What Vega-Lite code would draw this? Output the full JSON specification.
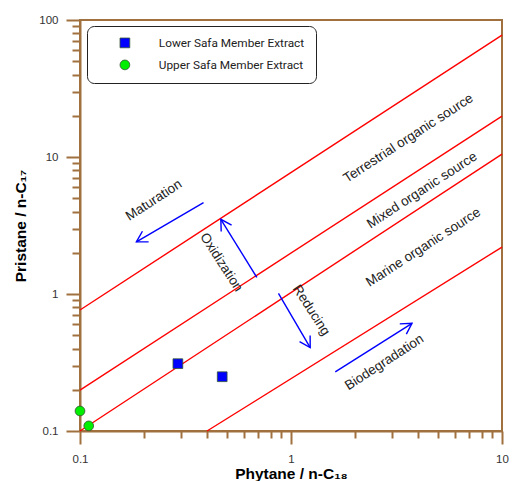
{
  "$schema": "https://vega.github.io/schema/vega-lite/v6.json",
  "width": 422,
  "height": 411,
  "autosize": {"type": "none"},
  "padding": {"left": 80, "top": 20, "right": 10, "bottom": 50},
  "background": "white",
  "config": {
    "view": {"stroke": "#a0703e", "strokeWidth": 2},
    "font": "Liberation Sans"
  },
  "encoding": {
    "x": {
      "field": "x", "type": "quantitative",
      "scale": {"type": "log", "domain": [0.1, 10], "nice": false},
      "axis": {
        "values": [0.1, 0.2, 0.3, 0.4, 0.5, 0.6, 0.7, 0.8, 0.9, 1, 2, 3, 4, 5, 6, 7, 8, 9, 10],
        "labelExpr": "datum.value == 0.1 ? '0.1' : datum.value == 1 ? '1' : datum.value == 10 ? '10' : ''",
        "tickSize": {"condition": {"test": "datum.value == 0.1 || datum.value == 1 || datum.value == 10", "value": 13}, "value": 7},
        "tickColor": "#a0703e", "tickWidth": 2,
        "domainColor": "#a0703e", "domainWidth": 2,
        "grid": false, "labelFlush": false, "labelOverlap": false,
        "labelFontSize": 11.5, "labelColor": "#333333", "labelPadding": 9,
        "title": "Phytane / n-C₁₈", "titleFontSize": 15.5, "titleFontWeight": "bold",
        "titleColor": "#000000", "titlePadding": 2
      }
    },
    "y": {
      "field": "y", "type": "quantitative",
      "scale": {"type": "log", "domain": [0.1, 100], "nice": false},
      "axis": {
        "values": [0.1, 0.2, 0.3, 0.4, 0.5, 0.6, 0.7, 0.8, 0.9, 1, 2, 3, 4, 5, 6, 7, 8, 9, 10, 20, 30, 40, 50, 60, 70, 80, 90, 100],
        "labelExpr": "datum.value == 0.1 ? '0.1' : datum.value == 1 ? '1' : datum.value == 10 ? '10' : datum.value == 100 ? '100' : ''",
        "tickSize": {"condition": {"test": "datum.value == 0.1 || datum.value == 1 || datum.value == 10 || datum.value == 100", "value": 14}, "value": 8},
        "tickColor": "#a0703e", "tickWidth": 2,
        "domainColor": "#a0703e", "domainWidth": 2,
        "grid": false, "labelFlush": false, "labelOverlap": false,
        "labelFontSize": 11.5, "labelColor": "#333333", "labelPadding": 8,
        "title": "Pristane / n-C₁₇", "titleFontSize": 15.5, "titleFontWeight": "bold",
        "titleColor": "#000000", "titlePadding": 10
      }
    }
  },
  "layer": [
    {
      "data": {"values": [
        {"line": "A", "x": 0.1, "y": 0.764}, {"line": "A", "x": 10, "y": 77.6},
        {"line": "B", "x": 0.1, "y": 0.199}, {"line": "B", "x": 10, "y": 19.9},
        {"line": "C", "x": 0.1, "y": 0.1}, {"line": "C", "x": 10, "y": 10.5},
        {"line": "D", "x": 0.4, "y": 0.1}, {"line": "D", "x": 10, "y": 2.2}
      ]},
      "mark": {"type": "line", "color": "#ff0000", "strokeWidth": 1.4},
      "encoding": {"detail": {"field": "line"}}
    },
    {
      "data": {"name": "arrows", "values": [
        {"name": "Maturation", "x": 0.185, "y": 2.40, "x0": 0.385, "y0": 4.65},
        {"name": "Oxidization", "x": 0.465, "y": 3.51, "x0": 0.689, "y0": 1.32},
        {"name": "Reducing", "x": 1.233, "y": 0.406, "x0": 0.872, "y0": 1.01},
        {"name": "Biodegradation", "x": 3.746, "y": 0.611, "x0": 1.621, "y0": 0.270}
      ]},
      "layer": [
        {
          "mark": {"type": "rule", "color": "#0000ff", "strokeWidth": 1.4},
          "encoding": {"x2": {"field": "x0"}, "y2": {"field": "y0"}}
        },
        {
          "transform": [{"filter": "datum.name == 'Maturation'"}],
          "mark": {"type": "point", "shape": "M -0.866 -0.5 L 0 0 L -0.866 0.5", "filled": false, "stroke": "#0000ff", "strokeWidth": 1.4, "size": 600, "angle": 149.7, "opacity": 1}
        },
        {
          "transform": [{"filter": "datum.name == 'Oxidization'"}],
          "mark": {"type": "point", "shape": "M -0.866 -0.5 L 0 0 L -0.866 0.5", "filled": false, "stroke": "#0000ff", "strokeWidth": 1.4, "size": 600, "angle": 238.3, "opacity": 1}
        },
        {
          "transform": [{"filter": "datum.name == 'Reducing'"}],
          "mark": {"type": "point", "shape": "M -0.866 -0.5 L 0 0 L -0.866 0.5", "filled": false, "stroke": "#0000ff", "strokeWidth": 1.4, "size": 600, "angle": 59.7, "opacity": 1}
        },
        {
          "transform": [{"filter": "datum.name == 'Biodegradation'"}],
          "mark": {"type": "point", "shape": "M -0.866 -0.5 L 0 0 L -0.866 0.5", "filled": false, "stroke": "#0000ff", "strokeWidth": 1.4, "size": 600, "angle": 327.6, "opacity": 1}
        }
      ]
    },
    {
      "data": {"values": [
        {"label": "Terrestrial organic source", "x": 3.6, "y": 13.7},
        {"label": "Mixed organic source", "x": 4.18, "y": 5.71},
        {"label": "Marine organic source", "x": 4.24, "y": 2.19},
        {"label": "Maturation", "x": 0.224, "y": 4.83},
        {"label": "Biodegradation", "x": 2.77, "y": 0.317}
      ]},
      "mark": {"type": "text", "angle": 327, "fontSize": 13.5, "color": "#222222", "align": "center", "baseline": "middle"},
      "encoding": {"text": {"field": "label"}}
    },
    {
      "data": {"values": [
        {"label": "Oxidization", "x": 0.467, "y": 1.70},
        {"label": "Reducing", "x": 1.247, "y": 0.76}
      ]},
      "mark": {"type": "text", "angle": 57, "fontSize": 13.5, "color": "#222222", "align": "center", "baseline": "middle"},
      "encoding": {"text": {"field": "label"}}
    },
    {
      "data": {"values": [
        {"series": "Lower Safa Member Extract", "x": 0.291, "y": 0.31},
        {"series": "Lower Safa Member Extract", "x": 0.472, "y": 0.249},
        {"series": "Upper Safa Member Extract", "x": 0.1, "y": 0.14},
        {"series": "Upper Safa Member Extract", "x": 0.11, "y": 0.109}
      ]},
      "mark": {"type": "point", "filled": true, "opacity": 1, "size": 95, "stroke": "#335533", "strokeWidth": 0.8},
      "encoding": {
        "color": {
          "field": "series", "type": "nominal",
          "scale": {"domain": ["Lower Safa Member Extract", "Upper Safa Member Extract"], "range": ["#0000ff", "#00ee00"]},
          "legend": {
            "orient": "none", "legendX": 7, "legendY": 6, "title": null,
            "strokeColor": "#222222", "cornerRadius": 7, "fillColor": "white",
            "padding": 11, "symbolOffset": 21, "labelOffset": 28, "rowPadding": 8,
            "labelFont": "Roboto", "labelFontSize": 11.8, "labelColor": "#222222",
            "symbolSize": 95, "symbolStrokeColor": "#335533", "symbolStrokeWidth": 0.8
          }
        },
        "shape": {
          "field": "series", "type": "nominal",
          "scale": {"domain": ["Lower Safa Member Extract", "Upper Safa Member Extract"], "range": ["square", "circle"]}
        }
      }
    }
  ]
}
